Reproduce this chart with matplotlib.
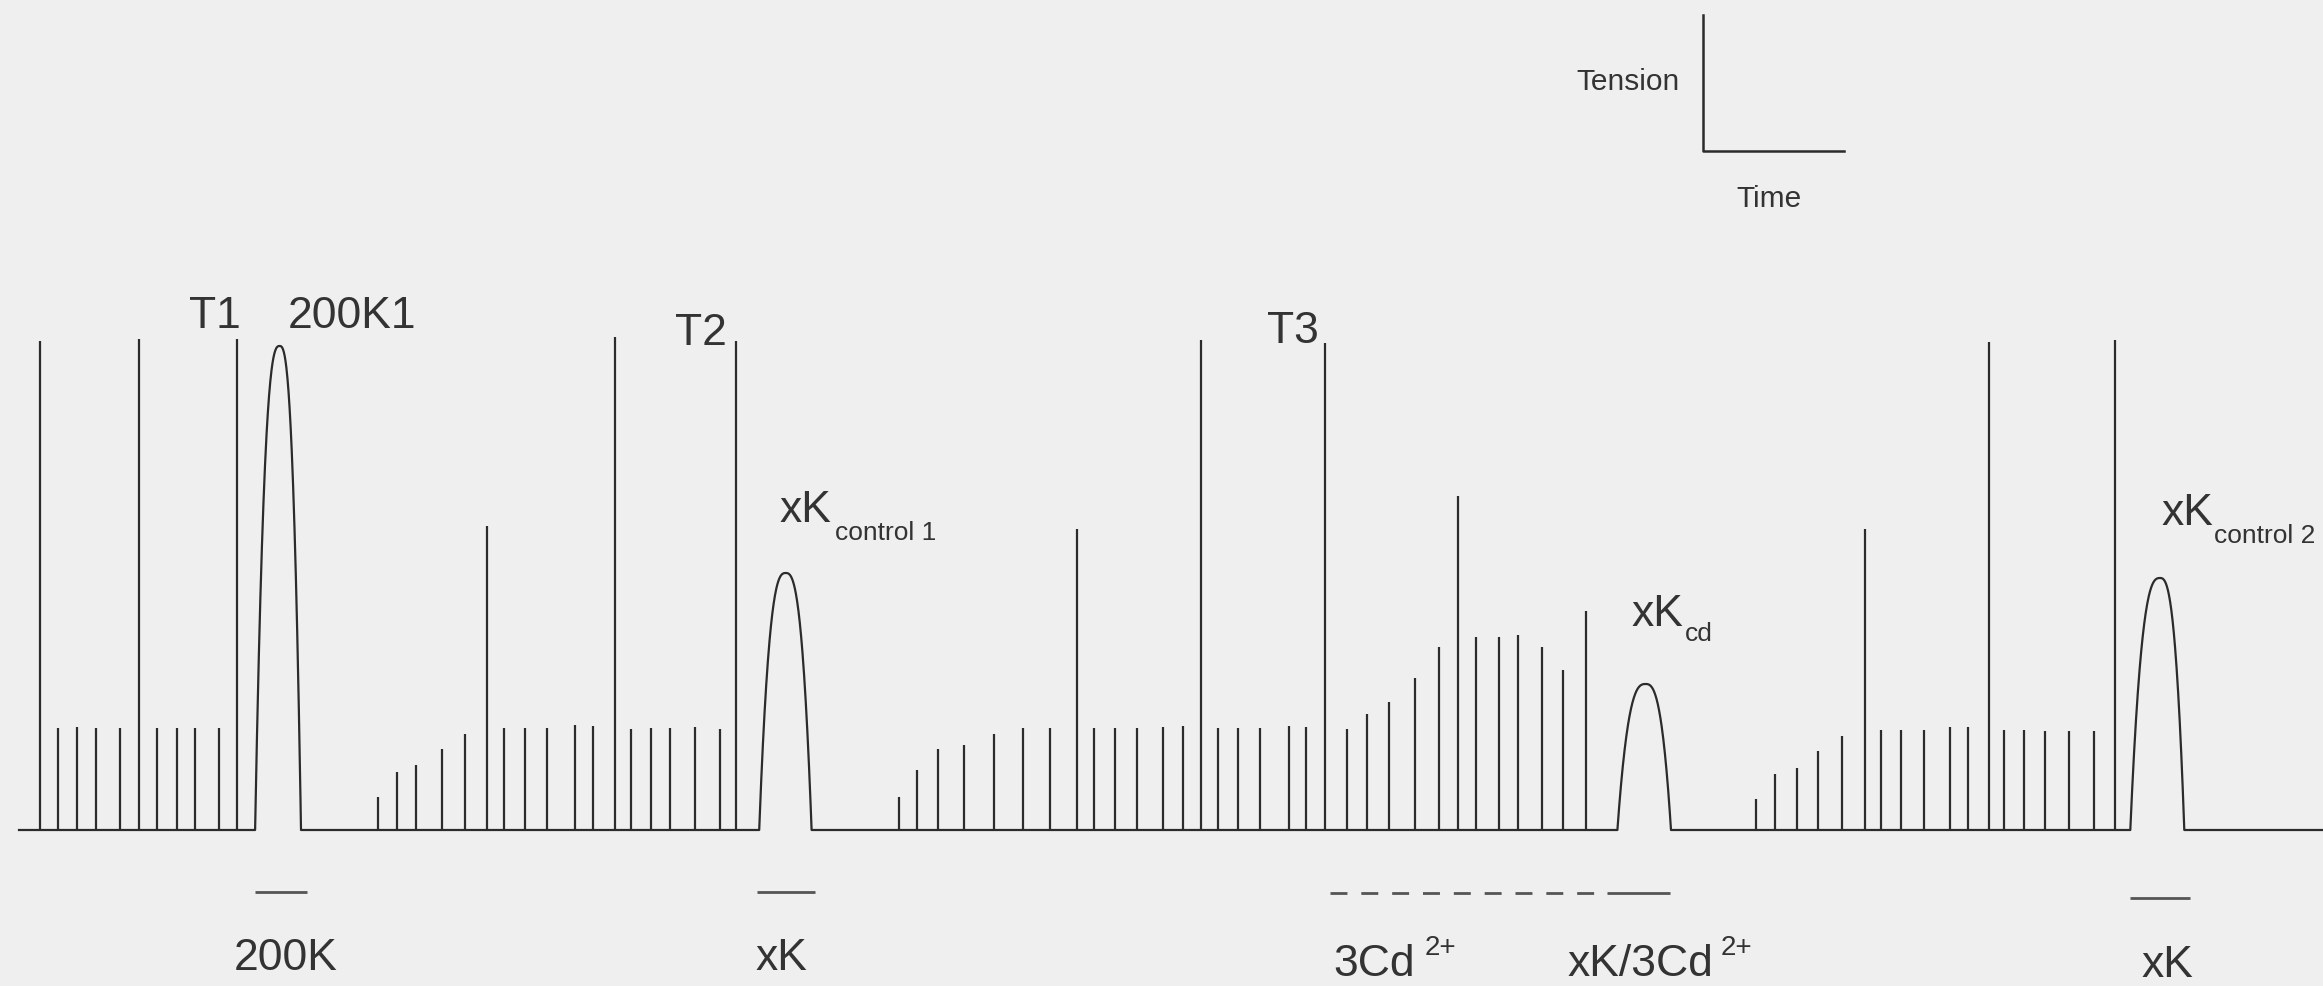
import matplotlib
matplotlib.use("Agg")
import matplotlib.pyplot as plt
import numpy as np

plt.rcParams['font.family'] = ['Liberation Sans', 'DejaVu Sans']

# ---- data: twitch responses (time, tension above baseline) ----
seg1_time = [39.8, 57.7, 76.5, 95.9, 120.4, 138.8, 157.1, 176.5, 195.4, 219.4, 236.7]
seg1_tension = [489, 102, 103, 102, 102, 491, 102, 102, 102, 102, 491]

seg2_time = [377.6, 397.0, 415.8, 441.8, 465.3, 487.2, 503.6, 525.0, 547.0, 574.5,
             592.9, 615.3, 631.1, 650.5, 670.4, 695.4, 720.4, 735.7]
seg2_tension = [33, 58, 65, 81, 96, 304, 102, 102, 102, 105,
                104, 493, 101, 102, 102, 103, 101, 489]

seg3_time = [898.9, 916.7, 937.7, 964.2, 994.3, 1023.4, 1049.9, 1076.9, 1094.3, 1114.7,
             1136.6, 1163.2, 1183.1, 1201.4, 1217.7, 1238.2, 1259.6, 1288.7, 1306.0, 1324.9,
             1347.3, 1366.7, 1389.2, 1415.2, 1438.7, 1458.0, 1475.9, 1498.9, 1517.8, 1541.7,
             1563.0, 1586.3]
seg3_tension = [33, 60, 81, 85, 96, 102, 102, 301, 102, 102,
                102, 103, 104, 490, 102, 102, 102, 104, 103, 487,
                101, 116, 128, 152, 183, 334, 193, 193, 195, 183,
                160, 219]

seg4_time = [1756.1, 1774.6, 1797.0, 1818.4, 1842.2, 1865.1, 1880.7, 1901.1, 1923.5, 1949.8,
             1968.3, 1989.2, 2003.8, 2023.7, 2044.7, 2068.5, 2094.3, 2114.7]
seg4_tension = [31, 56, 62, 79, 94, 301, 100, 100, 100, 103,
                103, 488, 100, 100, 99, 99, 99, 490]

# ---- data: K+ contractures (start, peak time, end, peak tension) ----
k_start = [255.1, 759.2, 1617.4, 2130.3]
k_peak = [279.6, 785.7, 1645.6, 2160.0]
k_end = [301.0, 811.6, 1671.0, 2184.3]
k_tension = [484, 257, 146, 252]

trace_start = 19.0
trace_end = 2323.0

# ---- data: application bars ----
solid_bar_start = [254.8, 757.0, 1607.0, 2130.0]
solid_bar_end = [306.7, 815.0, 1670.0, 2190.0]
cd_bar_start = 1330.0
cd_bar_end = 1607.0

# ---- figure ----
W, H = 2323, 986
fig = plt.figure(figsize=(W / 100, H / 100), dpi=100)
bg = '#efefef'
fig.patch.set_facecolor(bg)
ax = fig.add_axes([0, 0, 1, 1])
ax.set_facecolor(bg)
ax.set_xlim(0, W)
ax.set_ylim(-156, 830)
ax.axis('off')

ink = '#2b2b2b'
lw = 1.6

# baseline with contracture curves
xs = [trace_start]
ys = [0.0]
for s, p, e, h in zip(k_start, k_peak, k_end, k_tension):
    xs.append(s); ys.append(0.0)
    u = np.linspace(-1, 0, 80)
    xs.extend(p + u * (p - s)); ys.extend(h * (1 - np.abs(u) ** 2.7))
    u = np.linspace(0, 1, 80)[1:]
    xs.extend(p + u * (e - p)); ys.extend(h * (1 - np.abs(u) ** 2.7))
    xs.append(e); ys.append(0.0)
xs.append(trace_end); ys.append(0.0)
ax.plot(xs, ys, color=ink, lw=lw, solid_joinstyle='round')

# twitches
for t, h in [(seg1_time, seg1_tension), (seg2_time, seg2_tension),
             (seg3_time, seg3_tension), (seg4_time, seg4_tension)]:
    ax.vlines(t, 0, h, color=ink, lw=lw)

# labels above trace
big = 32
tk = dict(color='#333333', ha='left', va='baseline', fontsize=big)
ax.text(189, 830 - 328, 'T1', **tk)
ax.text(288, 830 - 328, '200K1', **tk)
ax.text(675, 830 - 345, 'T2', **tk)
ax.text(1267, 830 - 343, 'T3', **tk)
ax.text(780, 830 - 522, 'xK', **tk)
ax.text(835, 830 - 540, 'control 1', color='#333333', ha='left', va='baseline', fontsize=19)
ax.text(1631, 830 - 626, 'xK', **tk)
ax.text(1685, 830 - 641, 'cd', color='#333333', ha='left', va='baseline', fontsize=19)
ax.text(2161, 830 - 525, 'xK', **tk)
ax.text(2214, 830 - 543, 'control 2', color='#333333', ha='left', va='baseline', fontsize=19)

# scale bar
ax.plot([1703, 1703, 1844], [830 - 15, 830 - 151, 830 - 151], color=ink, lw=1.8)
ax.text(1576, 830 - 90, 'Tension', color='#333333', ha='left', va='baseline', fontsize=21.5)
ax.text(1736, 830 - 207, 'Time', color='#333333', ha='left', va='baseline', fontsize=21.5)

# application bars
bar_y = [830 - 892, 830 - 892, 830 - 893, 830 - 898]
for s, e, y in zip(solid_bar_start, solid_bar_end, bar_y):
    ax.plot([s, e], [y, y], color='#555555', lw=2.0, solid_capstyle='butt')
ax.plot([cd_bar_start, cd_bar_end], [830 - 893, 830 - 893], color='#555555', lw=2.0,
        dashes=(6.1, 5.0), dash_capstyle='butt')

# bottom labels
bk = dict(color='#333333', ha='left', va='baseline', fontsize=big)
ax.text(234, 830 - 970, '200K', **bk)
ax.text(755, 830 - 970, 'xK', **bk)
ax.text(1333, 830 - 976, '3Cd', **bk)
ax.text(1425, 830 - 955, '2+', color='#333333', ha='left', va='baseline', fontsize=20)
ax.text(1567, 830 - 976, 'xK/3Cd', **bk)
ax.text(1721, 830 - 955, '2+', color='#333333', ha='left', va='baseline', fontsize=20)
ax.text(2141, 830 - 977, 'xK', **bk)

fig.savefig('out.png', dpi=100, facecolor=bg)
